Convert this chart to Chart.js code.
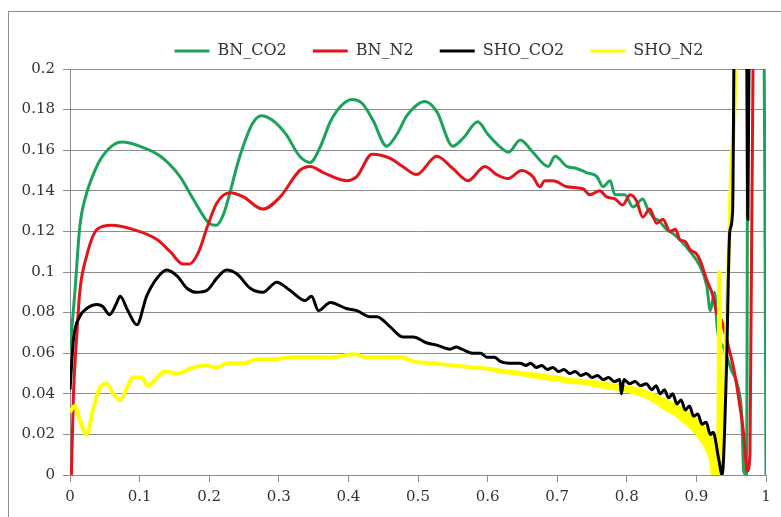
<!DOCTYPE html>
<html>
<head>
<meta charset="utf-8">
<script src="https://cdn.jsdelivr.net/npm/chart.js@4.4.0/dist/chart.umd.min.js"></script>
<style>
  body { margin: 0; background: #fff; }
  #frame { position: absolute; left: 8px; top: 11px; width: 900px; height: 700px;
           border-left: 1px solid #8c8c8c; border-top: 1px solid #8c8c8c; }
  #wrap { position: absolute; left: 0; top: 0; width: 781px; height: 517px; }
</style>
</head>
<body>
<div id="frame"></div>
<div id="wrap"><canvas id="chart"></canvas></div>
<script>
// series names and colours
const seriesNames = ["BN_CO2", "BN_N2", "SHO_CO2", "SHO_N2"];
const seriesColors = ["#1ba35a", "#e3151b", "#000000", "#ffff00"];

// [x, y] points
const bnCo2 = [
  [0, 0.062], [0.007, 0.09], [0.014, 0.122], [0.024, 0.139], [0.03, 0.145], [0.043, 0.155],
  [0.06, 0.162], [0.075, 0.164], [0.1, 0.162], [0.13, 0.157], [0.158, 0.147], [0.177, 0.136],
  [0.2, 0.124], [0.21, 0.123], [0.22, 0.128], [0.244, 0.157], [0.262, 0.173], [0.275, 0.177],
  [0.29, 0.175], [0.31, 0.168], [0.33, 0.157], [0.345, 0.154], [0.36, 0.162], [0.374, 0.174],
  [0.39, 0.182], [0.405, 0.185], [0.42, 0.183], [0.435, 0.175], [0.455, 0.162], [0.47, 0.168],
  [0.484, 0.177], [0.51, 0.184], [0.527, 0.179], [0.55, 0.162], [0.565, 0.166], [0.586, 0.174],
  [0.6, 0.168], [0.62, 0.161], [0.63, 0.159], [0.647, 0.165], [0.665, 0.159], [0.687, 0.152],
  [0.697, 0.157], [0.714, 0.152], [0.728, 0.151], [0.742, 0.149], [0.757, 0.147], [0.766, 0.142],
  [0.776, 0.145], [0.783, 0.138], [0.797, 0.138], [0.809, 0.132], [0.823, 0.136], [0.83, 0.131],
  [0.838, 0.127], [0.847, 0.125], [0.857, 0.121], [0.866, 0.119], [0.876, 0.116], [0.891, 0.11],
  [0.905, 0.103], [0.915, 0.093], [0.92, 0.081], [0.926, 0.09], [0.93, 0.072], [0.94, 0.062],
  [0.95, 0.052], [0.96, 0.043], [0.965, 0.03], [0.968, 0.002], [0.972, 0], [0.975, 0.35],
  [0.995, 0.35], [1, 0]
];
const bnN2 = [
  [0.002, 0], [0.005, 0.04], [0.01, 0.07], [0.014, 0.09], [0.024, 0.108], [0.039, 0.121],
  [0.06, 0.123], [0.09, 0.121], [0.125, 0.116], [0.144, 0.11], [0.162, 0.104], [0.172, 0.104],
  [0.185, 0.11], [0.197, 0.122], [0.211, 0.134], [0.23, 0.139], [0.249, 0.137], [0.277, 0.131],
  [0.302, 0.137], [0.33, 0.15], [0.345, 0.152], [0.364, 0.149], [0.397, 0.145], [0.412, 0.147],
  [0.434, 0.158], [0.46, 0.156], [0.478, 0.152], [0.498, 0.148], [0.527, 0.157], [0.55, 0.151],
  [0.572, 0.145], [0.596, 0.152], [0.613, 0.148], [0.629, 0.146], [0.649, 0.15], [0.665, 0.147],
  [0.675, 0.142], [0.682, 0.145], [0.694, 0.145], [0.714, 0.142], [0.737, 0.141], [0.747, 0.138],
  [0.761, 0.14], [0.771, 0.137], [0.783, 0.136], [0.794, 0.133], [0.805, 0.138], [0.814, 0.135],
  [0.823, 0.127], [0.833, 0.131], [0.843, 0.124], [0.852, 0.126], [0.862, 0.12], [0.87, 0.121],
  [0.876, 0.116], [0.884, 0.115], [0.891, 0.111], [0.9, 0.109], [0.905, 0.106], [0.915, 0.096],
  [0.924, 0.088], [0.929, 0.08], [0.934, 0.078], [0.944, 0.066], [0.955, 0.05], [0.962, 0.035],
  [0.968, 0.02], [0.973, 0.002], [0.977, 0.01], [0.984, 0.35]
];
const shoCo2 = [
  [0, 0.042], [0.005, 0.067], [0.014, 0.078], [0.024, 0.082], [0.039, 0.084], [0.047, 0.083],
  [0.057, 0.079], [0.066, 0.084], [0.072, 0.088], [0.083, 0.081], [0.096, 0.074], [0.11, 0.088],
  [0.125, 0.097], [0.139, 0.101], [0.154, 0.098], [0.168, 0.092], [0.182, 0.09], [0.197, 0.091],
  [0.211, 0.097], [0.225, 0.101], [0.24, 0.099], [0.259, 0.092], [0.277, 0.09], [0.297, 0.095],
  [0.316, 0.091], [0.338, 0.086], [0.347, 0.088], [0.357, 0.081], [0.374, 0.085], [0.397, 0.082],
  [0.412, 0.081], [0.431, 0.078], [0.441, 0.078], [0.46, 0.073], [0.478, 0.068], [0.493, 0.068],
  [0.513, 0.065], [0.527, 0.064], [0.546, 0.062], [0.555, 0.063], [0.563, 0.062], [0.579, 0.06],
  [0.59, 0.06], [0.599, 0.058], [0.61, 0.058], [0.618, 0.056], [0.636, 0.055], [0.647, 0.055],
  [0.655, 0.054], [0.662, 0.055], [0.67, 0.053], [0.678, 0.054], [0.686, 0.052], [0.694, 0.053],
  [0.702, 0.051], [0.71, 0.052], [0.718, 0.05], [0.726, 0.051], [0.734, 0.049], [0.742, 0.05],
  [0.75, 0.048], [0.758, 0.049], [0.766, 0.047], [0.774, 0.048], [0.782, 0.046], [0.79, 0.047],
  [0.792, 0.04], [0.796, 0.047], [0.804, 0.045], [0.812, 0.046], [0.82, 0.044], [0.828, 0.045],
  [0.836, 0.042], [0.842, 0.044], [0.848, 0.04], [0.854, 0.042], [0.86, 0.038], [0.866, 0.04],
  [0.872, 0.035], [0.878, 0.037], [0.884, 0.032], [0.89, 0.034], [0.896, 0.029], [0.902, 0.03],
  [0.908, 0.025], [0.914, 0.026], [0.92, 0.02], [0.924, 0.021], [0.932, 0.008], [0.937, 0],
  [0.943, 0.05], [0.948, 0.12], [0.952, 0.13], [0.957, 0.35], [0.97, 0.35], [0.974, 0.126],
  [0.978, 0.35]
];
const shoN2 = [
  [0, 0.031], [0.007, 0.034], [0.014, 0.027], [0.024, 0.02], [0.033, 0.032], [0.043, 0.043],
  [0.053, 0.045], [0.062, 0.04], [0.072, 0.037], [0.082, 0.043], [0.09, 0.048], [0.103, 0.048],
  [0.112, 0.044], [0.125, 0.048], [0.136, 0.051], [0.154, 0.05], [0.177, 0.053], [0.194, 0.054],
  [0.211, 0.053], [0.225, 0.055], [0.249, 0.055], [0.269, 0.057], [0.292, 0.057], [0.32, 0.058],
  [0.349, 0.058], [0.375, 0.058], [0.397, 0.059], [0.41, 0.0595], [0.425, 0.058], [0.445, 0.058],
  [0.478, 0.058], [0.493, 0.056], [0.522, 0.055], [0.55, 0.054], [0.579, 0.053], [0.608, 0.052],
  [0.62, 0.051], [0.63, 0.0508], [0.64, 0.0502], [0.65, 0.05], [0.66, 0.0493], [0.675, 0.0487],
  [0.69, 0.0478], [0.705, 0.0472], [0.72, 0.0463], [0.733, 0.046], [0.75, 0.0452], [0.765, 0.0443],
  [0.78, 0.0436], [0.79, 0.043], [0.805, 0.042], [0.819, 0.0408], [0.835, 0.0386], [0.848, 0.0362],
  [0.862, 0.0336], [0.876, 0.031], [0.885, 0.0285], [0.895, 0.0258], [0.905, 0.022], [0.915, 0.0172],
  [0.922, 0.013], [0.927, 0.008], [0.931, 0], [0.933, 0.1], [0.936, 0], [0.941, 0.05],
  [0.95, 0.15], [0.956, 0.2], [0.96, 0.35]
];
const allSeries = [bnCo2, bnN2, shoCo2, shoN2];

// axis ranges
const xMin = 0, xMax = 1, xStep = 0.1;
const yMin = 0, yMax = 0.2, yStep = 0.02;

const fontFamily = "'DejaVu Serif', 'Liberation Serif', serif";
const gridColor = "#8c8c8c";
const textColor = "#333333";

// the noisy yellow tail shows as a wide band: pen width by x (style only)
const yellowBand = [[0.5, 4], [0.6, 5], [0.66, 6], [0.74, 7], [0.8, 8], [0.825, 9], [0.84, 11], [0.86, 12], [0.875, 13], [0.931, 13]];
const bandWidth = (x) => {
  if (x < yellowBand[0][0] || x >= yellowBand[yellowBand.length - 1][0]) return 4;
  for (let i = 1; i < yellowBand.length; i++) {
    if (x < yellowBand[i][0]) return yellowBand[i - 1][1];
  }
  return 4;
};

// black is drawn over the yellow band, green lowest
const drawOrder = [3, 2, 0, 1];

const datasets = allSeries.map((points, i) => ({
  label: seriesNames[i],
  data: points.map(p => ({ x: p[0], y: p[1] })),
  borderColor: seriesColors[i],
  backgroundColor: seriesColors[i],
  borderWidth: i === 3 ? 4 : 3,
  pointRadius: 0,
  cubicInterpolationMode: "monotone",
  order: drawOrder[i],
  segment: i === 3 ? { borderWidth: (c) => bandWidth(c.p0.parsed.x) } : undefined,
}));

// move the legend row right, where excel put it
const shiftLegend = {
  id: "shiftLegend",
  afterLayout(chart) {
    chart.legend.left += 56;
    chart.legend.right += 56;
  },
};

const ctx = document.getElementById("chart").getContext("2d");
new Chart(ctx, {
  type: "line",
  data: { datasets },
  options: {
    responsive: true,
    maintainAspectRatio: false,
    animation: false,
    layout: { padding: { top: 17, right: 15, left: 0, bottom: 0 } },
    plugins: {
      tooltip: { enabled: false },
      legend: {
        display: true,
        position: "top",
        labels: {
          boxWidth: 35,
          boxHeight: 3,
          padding: 26,
          color: textColor,
          font: { family: fontFamily, size: 16 },
          sort: (a, b) => a.datasetIndex - b.datasetIndex,
          generateLabels: (chart) =>
            Chart.defaults.plugins.legend.labels.generateLabels(chart).map(l => ({ ...l, lineWidth: 0 })),
        },
      },
    },
    scales: {
      x: {
        type: "linear",
        min: xMin,
        max: xMax,
        border: { color: gridColor, width: 1 },
        grid: { drawOnChartArea: false, drawTicks: true, tickLength: 7, color: gridColor },
        ticks: {
          stepSize: xStep,
          padding: 6,
          color: textColor,
          font: { family: fontFamily, size: 15 },
          callback: (v) => +v.toFixed(1),
        },
        afterFit: (scale) => { scale.height = 42; },
      },
      y: {
        min: yMin,
        max: yMax,
        border: { color: gridColor, width: 1 },
        grid: { color: gridColor, tickLength: 7 },
        ticks: {
          stepSize: yStep,
          padding: 8,
          color: textColor,
          font: { family: fontFamily, size: 15 },
          callback: (v) => +v.toFixed(2),
        },
        afterFit: (scale) => { scale.width = 70; },
      },
    },
  },
  plugins: [shiftLegend],
});
</script>
</body>
</html>
